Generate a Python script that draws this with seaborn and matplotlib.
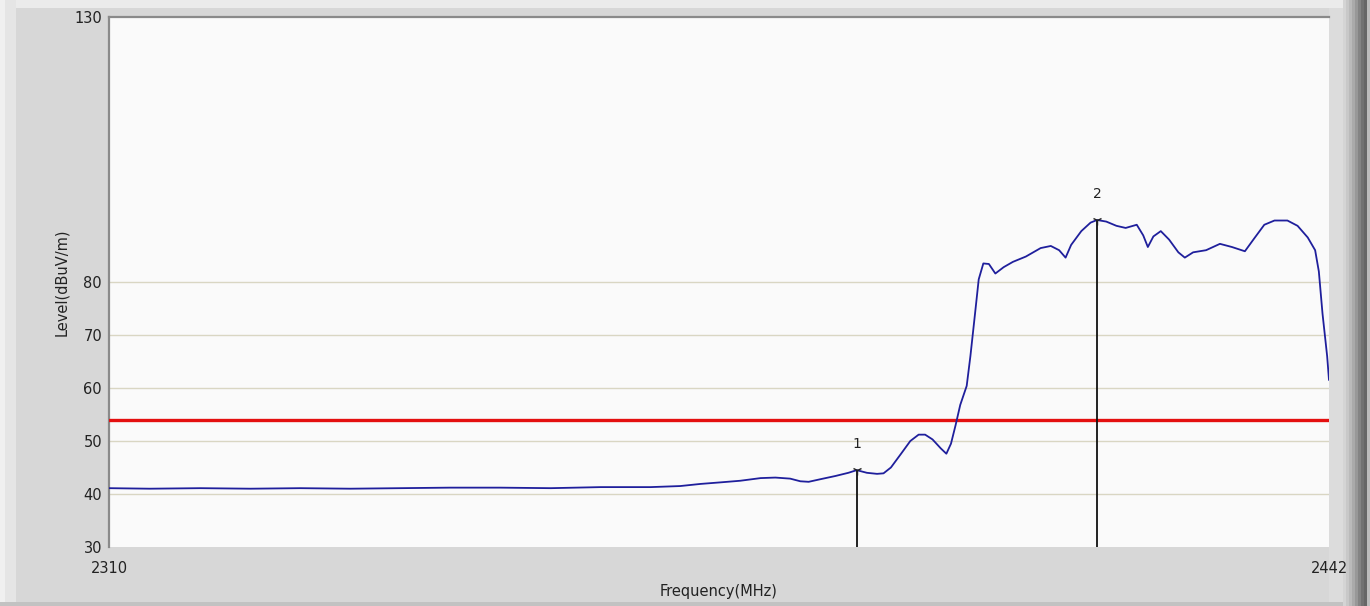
import numpy as np
import pandas as pd
import matplotlib
matplotlib.use("Agg")
import matplotlib.pyplot as plt
from matplotlib.patches import Rectangle
import seaborn as sns

# Spectrum trace: frequency (MHz) and measured level (dBuV/m)
freq_mhz = [
    2310.0, 2314.4, 2319.9, 2325.3, 2330.7, 2336.1, 2341.5, 2346.9, 2352.3,
    2357.8, 2363.2, 2368.6, 2371.8, 2374.0, 2376.2, 2378.3, 2380.5, 2382.1,
    2383.7, 2384.8, 2385.7, 2387.0, 2388.6, 2390.0, 2390.9, 2392.0, 2393.1,
    2393.8, 2394.6, 2395.7, 2396.7, 2397.6, 2398.3, 2399.1, 2400.0, 2400.6,
    2401.1, 2401.6, 2402.1, 2402.8, 2403.2, 2403.7, 2404.1, 2404.6, 2405.2,
    2405.9, 2406.8, 2407.8, 2409.2, 2410.8, 2411.9, 2412.8, 2413.5, 2414.1,
    2415.2, 2416.2, 2416.9, 2417.9, 2419.0, 2420.0, 2421.2, 2421.9, 2422.4,
    2423.0, 2423.8, 2424.7, 2425.7, 2426.4, 2427.3, 2428.7, 2430.2, 2431.5,
    2432.9, 2433.9, 2435.0, 2436.1, 2437.5, 2438.6, 2439.7, 2440.5, 2440.9,
    2441.3, 2441.8, 2442.0,
]
level_dbuv = [
    41.1, 41.0, 41.1, 41.0, 41.1, 41.0, 41.1, 41.2, 41.2,
    41.1, 41.3, 41.3, 41.5, 41.9, 42.2, 42.5, 43.0, 43.1,
    42.9, 42.4, 42.3, 42.8, 43.4, 44.0, 44.5, 44.0, 43.8,
    43.9, 45.0, 47.6, 50.0, 51.2, 51.2, 50.3, 48.6, 47.6,
    49.5, 53.0, 56.8, 60.4, 66.0, 74.0, 80.5, 83.5, 83.4,
    81.6, 82.8, 83.8, 84.8, 86.4, 86.8, 86.0, 84.6, 87.0,
    89.6, 91.2, 91.7, 91.4, 90.6, 90.2, 90.8, 88.8, 86.6,
    88.6, 89.6, 88.0, 85.6, 84.6, 85.6, 86.0, 87.2, 86.6,
    85.8, 88.2, 90.8, 91.6, 91.6, 90.6, 88.4, 86.0, 82.0,
    74.0, 66.0, 61.5,
]

# Peak markers
marker_ids = ["1", "2"]
marker_freq = [2390.9, 2416.9]
marker_level = [44.5, 91.7]

# Limit line
limit_level = 54.0

y_ticks = [30, 40, 50, 60, 70, 80, 130]
x_ticks = [2310, 2442]

df = pd.DataFrame({"Frequency(MHz)": freq_mhz, "Level(dBuV/m)": level_dbuv})

sns.set_theme(style="white")
plt.rcParams["font.family"] = ["DejaVu Sans"]

W, H = 1370, 606
fig = plt.figure(figsize=(W / 100, H / 100), dpi=100)
fig.patch.set_facecolor("#d7d7d7")


def frame_rect(x0, y0, w, h, color):
    # rectangle in pixel units measured from the top-left corner
    fig.patches.append(Rectangle((x0 / W, 1 - (y0 + h) / H), w / W, h / H,
                                 transform=fig.transFigure, facecolor=color,
                                 edgecolor="none", zorder=-5))


# window frame shading
frame_rect(0, 0, W, 8, "#ebebeb")
frame_rect(0, 0, 16, H, "#e5e5e5")
frame_rect(0, 0, 5, H, "#f0f0f0")
frame_rect(1329, 8, 14, H, "#dcdcdc")
grays = ["#d4d4d4", "#c8c8c8", "#bababa", "#aaaaaa", "#989898", "#848484",
         "#727272", "#666666", "#bcbcbc"]
for i, c in enumerate(grays):
    frame_rect(1343 + i * 3, 0, 3, H, c)
frame_rect(0, 602, 1343, 4, "#c2c2c2")

ax = fig.add_axes([109 / W, 1 - 547 / H, 1220 / W, 530 / H])
ax.set_facecolor("#fafafa")

for y in [40, 50, 60, 70, 80]:
    ax.axhline(y, color="#d9d6c3", lw=1.0, zorder=1)

ax.axhline(limit_level, color="#e41010", lw=2.4, zorder=3)

sns.lineplot(data=df, x="Frequency(MHz)", y="Level(dBuV/m)", ax=ax,
             color="#1f1f9c", lw=1.3, zorder=4, estimator=None, sort=False)

for mid, fx, lv in zip(marker_ids, marker_freq, marker_level):
    ax.vlines(fx, 30, lv, color="#111111", lw=1.3, zorder=5)
    ax.plot([fx], [lv], marker="1", color="#222222", ms=7, mew=1.0, zorder=6)
    ax.annotate(mid, (fx, lv), xytext=(0, 14), textcoords="offset points",
                ha="center", va="bottom", fontsize=10, color="#222222")

ax.set_xlim(2310, 2442)
ax.set_ylim(30, 130)
ax.set_xticks(x_ticks)
ax.set_yticks(y_ticks)
ax.tick_params(axis="both", length=0, labelsize=10.5, colors="#222222")
ax.tick_params(axis="y", pad=5)
ax.tick_params(axis="x", pad=10)

for side in ["right", "bottom"]:
    ax.spines[side].set_visible(False)
for side in ["left", "top"]:
    ax.spines[side].set_color("#8a8a8a")
    ax.spines[side].set_linewidth(1.6)

ax.set_xlabel("Frequency(MHz)", fontsize=10.5, color="#222222")
ax.set_ylabel("Level(dBuV/m)", fontsize=10.5, color="#222222")
ax.xaxis.set_label_coords(0.5, -0.07)
ax.yaxis.set_label_coords(-0.033, 0.5)

fig.savefig("out.png", dpi=100, facecolor=fig.get_facecolor())
